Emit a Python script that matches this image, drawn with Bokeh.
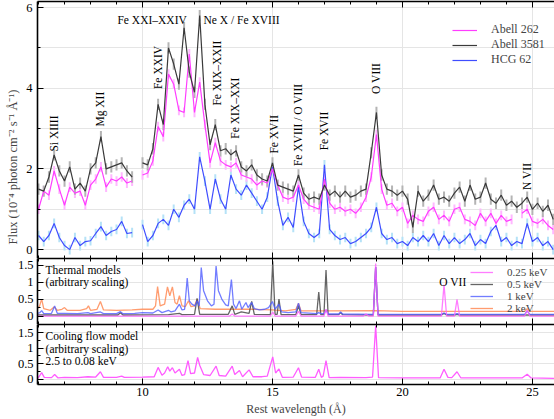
from math import pi
from bokeh.plotting import figure
from bokeh.models import (Range1d, LinearAxis, SingleIntervalTicker, FixedTicker, Legend,
                          LegendItem, Label, Title, ColumnDataSource, NumeralTickFormatter)
from bokeh.layouts import column
from bokeh.embed import file_html
from bokeh.resources import INLINE

nan = float("nan")

# ---------------- data: observed spectra (flux, 1e-4 photon cm-2 s-1 A-1) ----------------
wavelength = [6.0, 6.2, 6.4, 6.6, 6.8, 7.0, 7.2, 7.4, 7.6, 7.8,
              8.0, 8.2, 8.4, 8.6, 8.8, 9.0, 9.2, 9.4, 9.6, 9.8,
              10.0, 10.2, 10.4, 10.6, 10.8, 11.0, 11.2, 11.4, 11.6, 11.8,
              12.0, 12.2, 12.4, 12.6, 12.8, 13.0, 13.2, 13.4, 13.6, 13.8,
              14.0, 14.2, 14.4, 14.6, 14.8, 15.0, 15.2, 15.4, 15.6, 15.8,
              16.0, 16.2, 16.4, 16.6, 16.8, 17.0, 17.2, 17.4, 17.6, 17.8,
              18.0, 18.2, 18.4, 18.6, 18.8, 19.0, 19.2, 19.4, 19.6, 19.8,
              20.0, 20.2, 20.4, 20.6, 20.8, 21.0, 21.2, 21.4, 21.6, 21.8,
              22.0, 22.2, 22.4, 22.6, 22.8, 23.0, 23.2, 23.4, 23.6, 23.8,
              24.0, 24.2, 24.4, 24.6, 24.8, 25.0, 25.2, 25.4, 25.6, 25.8]

abell262 = [1.0, 1.45, 1.35, 1.95, 1.5, 1.1, 1.55, 1.4, 1.45, 1.1,
            1.6, 1.75, 2.05, 1.55, 1.75, 1.7, 1.8, 1.65, 1.7, nan,
            1.85, 1.9, 2.2, 3.05, 2.8, 4.35, 4.1, 3.45, 3.4, 4.85,
            3.4, 4.15, 3.1, 2.15, 2.65, 2.2, 2.1, 2.05, 2.15, 1.85,
            1.8, 1.75, 1.6, 1.7, 1.65, 2.0, 1.6, 1.3, 1.25, 1.3,
            1.6, 1.25, 1.1, 1.05, 1.0, 1.75, 1.15, 1.0, 1.05, 0.95,
            1.0, 0.9, 1.05, 1.3, 1.8, 2.85, 1.5, 1.1, 1.15, 0.95,
            1.05, 0.65, 0.85, 0.75, 0.7, 0.95, 1.05, 0.75, 0.85, 0.7,
            1.0, 1.05, 0.75, 0.7, 0.6, 0.9, 0.7, 0.9, 0.65, 0.85,
            0.7, 0.75, nan, 0.9, 1.0, 0.7, 0.65, 0.75, 0.6, 0.5]

abell3581 = [1.5, 1.45, 1.8, 2.35, 1.95, 1.7, 2.05, 1.5, 1.65, 1.45,
             2.0, 2.15, 2.8, 2.0, 2.05, 2.1, 2.15, 1.95, 1.8, nan,
             2.15, 2.1, 2.5, 3.6, 3.1, 5.0, 4.6, 4.1, 5.5, 4.4,
             3.9, 5.8, 3.6, 2.6, 3.1, 2.45, 2.5, 2.35, 2.45, 2.05,
             1.95, 2.1, 1.85, 1.75, 1.7, 2.15, 1.6, 1.55, 1.5, 1.45,
             1.85, 1.4, 1.25, 1.3, 1.25, 1.6, 1.35, 1.45, 1.3, 1.45,
             1.3, 1.35, 1.45, 1.5, 2.4, 3.4, 1.85, 1.5, 1.45, 1.35,
             1.45, 1.25, 0.55, 1.45, 1.2, 1.35, 1.6, 1.25, 1.3, 1.2,
             1.4, 1.55, 1.2, 1.6, 1.25, 1.3, 1.65, 1.25, 1.15, 1.35,
             1.1, 1.2, 1.05, 1.15, 1.3, 1.0, 1.15, 0.95, 1.1, 0.75]

hcg62 = [0.35, 0.2, 0.35, 0.65, 0.3, 0.1, 0.0, 0.3, 0.1, 0.2,
         0.22, 0.4, 0.57, 0.35, 0.45, 0.5, 0.7, 0.4, 0.42, nan,
         0.62, 0.2, 0.35, 0.65, 0.75, 0.6, 1.0, 0.8, 1.1, 1.25,
         1.0, 2.3, 1.7, 1.0, 1.75, 1.25, 1.0, 1.85, 1.5, 1.35,
         1.6, 1.4, 1.2, 1.0, 1.3, 2.05, 1.2, 0.6, 0.8, 0.55,
         1.55, 0.7, 0.4, 0.3, 0.4, 2.1, 0.5, 0.35, 0.25, 0.3,
         0.15, 0.2, 0.3, 0.4, 0.55, 1.05, 0.4, 0.25, 0.3, 0.15,
         0.2, 0.1, 0.3, 0.2, 0.35, 0.2, 0.4, 0.1, 0.35, 0.15,
         0.3, 0.15, 0.25, 0.4, 0.1, 0.25, 0.15, 0.45, 0.6, 0.2,
         0.3, 0.1, 0.2, 0.15, 0.65, 0.2, 0.3, 0.1, 0.2, 0.0]

err_abell262 = 0.12
err_abell3581 = 0.14
err_hcg62 = 0.12

# ---------------- data: thermal models (arbitrary scaling) ----------------
model_2kev_wl = [5.96, 6.04, 6.12, 6.2, 6.45, 6.6, 6.72, 6.9, 7.0, 7.1, 7.6, 7.85, 7.92, 8.0, 8.25,
                 8.38, 8.5, 9.0, 9.6, 10.0, 10.4, 10.5, 10.58, 10.68, 10.85, 10.96, 11.05, 11.15, 11.25,
                 11.33, 11.42, 11.52, 11.65, 11.77, 11.86, 12.0, 12.1, 12.22, 12.8, 13.45, 14.2, 15.0,
                 15.5, 15.9, 16.0, 16.1, 17.05, 18.97, 20.0, 21.6, 24.7, 24.8, 24.9, 25.85]
model_2kev = [0.22, 0.3, 0.5, 0.22, 0.17, 0.27, 0.17, 0.2, 0.25, 0.17, 0.17, 0.22, 0.3, 0.17, 0.2,
              0.43, 0.18, 0.17, 0.18, 0.2, 0.2, 0.3, 0.87, 0.3, 0.35, 0.86, 0.6, 0.86, 0.4,
              0.35, 0.6, 0.3, 0.28, 0.45, 0.28, 0.3, 0.5, 0.22, 0.2, 0.2, 0.2, 0.18,
              0.15, 0.2, 0.37, 0.15, 0.15, 0.16, 0.14, 0.14, 0.14, 0.22, 0.14, 0.14]

model_1kev_wl = [5.96, 6.05, 6.12, 6.2, 6.5, 6.62, 6.72, 7.0, 7.5, 7.9, 8.0, 8.38, 8.5, 9.0, 9.15,
                 9.25, 9.7, 10.0, 10.4, 10.6, 10.75, 11.0, 11.1, 11.25, 11.42, 11.52, 11.62, 11.72,
                 11.8, 11.9, 12.02, 12.1, 12.18, 12.26, 12.35, 12.5, 12.65, 12.75, 12.83, 12.92,
                 13.05, 13.2, 13.3, 13.42, 13.5, 13.6, 13.73, 13.82, 13.98, 14.06, 14.2, 14.3,
                 14.5, 14.7, 14.85, 15.0, 15.1, 15.25, 15.35, 15.6, 15.9, 16.0, 16.1, 16.7, 16.78,
                 16.86, 17.0, 17.06, 17.15, 17.55, 17.62, 17.7, 18.88, 18.97, 19.06, 21.5, 21.6,
                 21.7, 22.0, 22.1, 22.2, 24.7, 24.8, 24.9, 25.85]
model_1kev = [0.08, 0.1, 0.16, 0.07, 0.08, 0.3, 0.08, 0.08, 0.07, 0.1, 0.07, 0.12, 0.07, 0.07, 0.13,
              0.07, 0.08, 0.1, 0.09, 0.18, 0.1, 0.17, 0.12, 0.15, 0.35, 0.18, 0.2, 1.12,
              0.45, 0.35, 0.3, 0.45, 0.3, 1.43, 0.75, 0.45, 0.3, 0.35, 1.48, 0.75,
              0.5, 0.33, 0.3, 1.08, 0.35, 0.22, 0.45, 0.2, 0.4, 0.25, 0.4, 0.22,
              0.18, 0.2, 0.25, 0.43, 0.2, 0.35, 0.12, 0.1, 0.12, 0.38, 0.1, 0.07, 0.1,
              0.07, 0.08, 0.18, 0.06, 0.06, 0.12, 0.06, 0.05, 1.45, 0.05, 0.05, 0.09,
              0.05, 0.05, 0.07, 0.05, 0.05, 0.15, 0.05, 0.05]

model_05kev_wl = [5.96, 9.05, 9.15, 9.25, 11.0, 11.42, 11.52, 12.0, 12.1, 12.2, 13.3, 13.45, 13.55,
                  13.8, 14.1, 14.2, 14.3, 14.92, 15.01, 15.1, 15.18, 15.25, 15.33, 15.9, 16.0, 16.1,
                  16.7, 16.78, 16.86, 16.98, 17.06, 17.14, 17.55, 17.62, 17.7, 18.88, 18.97, 19.06,
                  21.5, 21.6, 21.7, 22.0, 22.1, 22.2, 25.85]
model_05kev = [0.03, 0.03, 0.1, 0.03, 0.04, 0.08, 0.04, 0.05, 0.52, 0.05, 0.05, 0.3, 0.05,
               0.12, 0.08, 0.43, 0.05, 0.04, 1.62, 0.05, 0.05, 0.5, 0.04, 0.04, 0.3, 0.04,
               0.04, 0.71, 0.04, 0.04, 1.36, 0.04, 0.04, 0.1, 0.04, 0.03, 1.45, 0.03,
               0.03, 0.08, 0.03, 0.03, 0.05, 0.03, 0.03]

model_025kev_wl = [5.96, 13.35, 13.45, 13.55, 14.92, 15.01, 15.1, 15.9, 16.0, 16.1, 16.98, 17.06,
                   17.14, 18.5, 18.6, 18.7, 18.88, 18.97, 19.06, 21.5, 21.6, 21.7, 22.0, 22.1,
                   22.2, 24.7, 24.8, 24.9, 25.85]
model_025kev = [0.0, 0.0, 0.06, 0.0, 0.0, 0.12, 0.0, 0.0, 0.14, 0.0, 0.0, 0.2,
                0.0, 0.0, 0.06, 0.0, 0.0, 1.55, 0.0, 0.0, 0.92, 0.0, 0.0, 0.49,
                0.0, 0.0, 0.17, 0.0, 0.0]

# ---------------- data: cooling flow model (2.5 to 0.08 keV) ----------------
cooling_wl = [5.96, 6.05, 6.12, 6.22, 6.5, 6.62, 6.75, 7.0, 7.5, 7.9, 8.2, 8.38, 8.5, 9.0, 9.2,
              9.3, 10.0, 10.45, 10.6, 10.75, 10.85, 10.97, 11.05, 11.15, 11.25, 11.42, 11.52, 11.62,
              11.75, 11.85, 12.0, 12.12, 12.2, 12.35, 12.6, 12.83, 12.95, 13.2, 13.45, 13.55, 13.73,
              13.85, 14.1, 14.25, 14.6, 14.8, 15.01, 15.12, 15.25, 15.38, 15.8, 16.0, 16.12, 16.65,
              16.78, 16.88, 16.95, 17.06, 17.18, 17.6, 18.6, 18.85, 18.97, 19.08, 20.0, 21.45, 21.6,
              21.75, 21.9, 22.1, 22.25, 24.6, 24.8, 24.95, 25.85]
cooling_flow = [0.02, 0.12, 0.21, 0.06, 0.05, 0.15, 0.04, 0.06, 0.05, 0.08, 0.07, 0.24, 0.06, 0.06, 0.1,
                0.06, 0.07, 0.08, 0.38, 0.13, 0.2, 0.4, 0.26, 0.37, 0.2, 0.32, 0.12, 0.15,
                0.6, 0.18, 0.2, 0.7, 0.45, 0.15, 0.12, 0.42, 0.12, 0.1, 0.42, 0.15, 0.28,
                0.08, 0.3, 0.08, 0.08, 0.1, 0.72, 0.2, 0.33, 0.06, 0.07, 0.37, 0.07, 0.06,
                0.32, 0.06, 0.1, 0.6, 0.05, 0.06, 0.05, 0.07, 1.72, 0.05, 0.04, 0.04, 0.32,
                0.06, 0.05, 0.24, 0.04, 0.04, 0.16, 0.04, 0.03]

# ---------------- tick positions (Angstrom) ----------------
major_wl_ticks = [10, 15, 20, 25]
minor_wl_ticks = [6, 7, 8, 9, 11, 12, 13, 14, 16, 17, 18, 19, 21, 22, 23, 24]

# ---------------- annotations ----------------
line_ids = ["Si XIIII", "Mg XII", "Fe XXIV", "Fe XIX\u2013XXII", "Fe XIX\u2013XXI", "Fe XVII",
            "Fe XVIII / O VIII", "Fe XVII", "O VIII", "N VII"]
line_id_x = [6.58, 8.38, 10.58, 12.88, 13.54, 15.04, 16.0, 17.0, 19.0, 24.8]
line_id_y = [2.43, 3.05, 3.98, 3.57, 2.75, 2.38, 2.07, 2.46, 3.86, 1.48]
top_ids = ["Fe XXI\u2013XXIV", "Ne X / Fe XVIII"]
top_id_x = [10.37, 13.81]
top_id_y = [5.70, 5.70]

SERIF = "Liberation Serif"
C_A262, C_A262_E = "#ff3dff", "#ffb8ff"
C_A3581, C_A3581_E = "#3a3a3a", "#b4b4b4"
C_HCG, C_HCG_E = "#3f4dff", "#b5e2f7"
C_025, C_05, C_1, C_2 = "#ff5cff", "#4a4a4a", "#4f5dff", "#ff915f"

x_range = Range1d(5.96, 25.85)


def make_fig(height, y0, y1, top_border, bottom_border):
    p = figure(width=554, height=height, x_range=x_range, y_range=Range1d(y0, y1),
               output_backend="svg", toolbar_location=None,
               x_axis_location=None, y_axis_location=None,
               min_border_left=37, min_border_right=0,
               min_border_top=top_border, min_border_bottom=bottom_border)
    p.outline_line_color = None
    p.background_fill_color = "white"
    p.border_fill_color = "white"
    return p


def style_axis(ax):
    ax.axis_line_width = 1.6
    ax.axis_line_color = "black"
    ax.major_tick_in = 6
    ax.major_tick_out = 0
    ax.minor_tick_in = 3
    ax.minor_tick_out = 0
    ax.major_tick_line_color = "black"
    ax.minor_tick_line_color = "black"
    ax.major_label_text_font = SERIF
    ax.major_label_text_font_size = "12.5px"
    ax.major_label_text_color = "black"
    ax.major_label_standoff = 3
    return ax


def add_plain_x_ticks(p, side):
    # unlabeled boundary: line + short ticks every 1 A, then longer ticks every 5 A (overlay)
    a = LinearAxis(ticker=FixedTicker(ticks=[], minor_ticks=minor_wl_ticks))
    a.axis_line_width = 1.6
    a.minor_tick_in = 3
    a.minor_tick_out = 0
    a.major_tick_in = 0
    a.major_tick_out = 0
    a.major_label_standoff = 0
    p.add_layout(a, side)
    b = LinearAxis(ticker=FixedTicker(ticks=[], minor_ticks=major_wl_ticks))
    b.axis_line_color = None
    b.minor_tick_in = 6
    b.minor_tick_out = 0
    b.major_tick_in = 0
    b.major_tick_out = 0
    b.major_label_standoff = 0
    p.add_layout(b, side)


def model_y_axis():
    ax = LinearAxis(ticker=FixedTicker(ticks=[0, 0.5, 1, 1.5], minor_ticks=[0.25, 0.75, 1.25]),
                    formatter=NumeralTickFormatter(format="0.[0]"))
    style_axis(ax)
    ax.major_label_standoff = 4
    return ax


# ---------------- top panel: spectra ----------------
p1 = make_fig(258, -0.22, 6.15, 1, 0)
add_plain_x_ticks(p1, "above")
add_plain_x_ticks(p1, "below")
ly = style_axis(LinearAxis(ticker=SingleIntervalTicker(interval=2, num_minor_ticks=2)))
ly.major_label_standoff = 5
p1.add_layout(ly, "left")
p1.add_layout(Title(text="Flux (10\u207b\u2074 photon cm\u207b\u00b2 s\u207b\u00b9 \u00c5\u207b\u00b9)",
                    align="left", offset=14, text_font=SERIF, text_font_size="12.5px",
                    text_font_style="normal", standoff=7), "left")

series = [("Abell 262", abell262, err_abell262, C_A262, C_A262_E),
          ("Abell 3581", abell3581, err_abell3581, C_A3581, C_A3581_E),
          ("HCG 62", hcg62, err_hcg62, C_HCG, C_HCG_E)]
by_name = {s[0]: s for s in series}
sources = {}
for name, flux, err, col, ecol in series:
    lo = [f - err for f in flux]
    hi = [f + err for f in flux]
    sources[name] = ColumnDataSource(dict(x=wavelength, y=flux, lo=lo, hi=hi))

draw_order = ["HCG 62", "Abell 262", "Abell 3581"]
for name in draw_order:
    p1.segment(x0="x", y0="lo", x1="x", y1="hi", source=sources[name],
               line_color=by_name[name][4], line_width=2)

line_renderers = {}
for name in draw_order:
    line_renderers[name] = p1.line("x", "y", source=sources[name],
                                   line_color=by_name[name][3], line_width=1.2)

items = []
for name, flux, err, col, ecol in series:
    mark = p1.scatter(x=[], y=[], marker="cross", size=8, line_color=col, line_width=1)
    items.append(LegendItem(label=name, renderers=[line_renderers[name], mark]))
leg1 = Legend(items=items, location=(415, 191), padding=0, margin=0, spacing=-2,
              glyph_width=25, glyph_height=14, label_height=14, label_standoff=14,
              label_text_font=SERIF, label_text_font_size="12px",
              background_fill_alpha=0, border_line_color=None)
p1.add_layout(leg1)

for t, x, y in zip(line_ids, line_id_x, line_id_y):
    p1.add_layout(Label(x=x, y=y, text=t, angle=pi / 2, text_align="left", text_baseline="middle",
                        text_font=SERIF, text_font_size="11.5px", text_color="black"))
for t, x, y in zip(top_ids, top_id_x, top_id_y):
    p1.add_layout(Label(x=x, y=y, text=t, text_align="center", text_baseline="middle",
                        text_font=SERIF, text_font_size="11.5px", text_color="black"))

# ---------------- middle panel: thermal models ----------------
p2 = make_fig(66, -0.25, 1.7, 0, 0)
add_plain_x_ticks(p2, "above")
add_plain_x_ticks(p2, "below")
p2.add_layout(model_y_axis(), "left")

r2 = p2.line(model_2kev_wl, model_2kev, line_color=C_2, line_width=1.3, line_alpha=0.9)
r05 = p2.line(model_05kev_wl, model_05kev, line_color=C_05, line_width=1.3, line_alpha=0.85)
r1 = p2.line(model_1kev_wl, model_1kev, line_color=C_1, line_width=1.3, line_alpha=0.8)
r025 = p2.line(model_025kev_wl, model_025kev, line_color=C_025, line_width=1.3, line_alpha=0.8)

leg2 = Legend(items=[LegendItem(label="0.25 keV", renderers=[r025]),
                     LegendItem(label="0.5 keV", renderers=[r05]),
                     LegendItem(label="1 keV", renderers=[r1]),
                     LegendItem(label="2 keV", renderers=[r2])],
              location=(433, 10), padding=0, margin=0, spacing=0,
              glyph_width=23, glyph_height=12, label_height=12, label_standoff=14,
              label_text_font=SERIF, label_text_font_size="11px",
              background_fill_alpha=0, border_line_color=None)
p2.add_layout(leg2)

for t, y in zip(["Thermal models", "(arbitrary scaling)"], [1.36, 1.0]):
    p2.add_layout(Label(x=6.27, y=y, text=t, text_align="left", text_baseline="middle",
                        text_font=SERIF, text_font_size="11.5px", text_color="black"))
p2.add_layout(Label(x=21.94, y=1.0, text="O VII", text_align="center", text_baseline="middle",
                    text_font=SERIF, text_font_size="11.5px", text_color="black"))

# ---------------- bottom panel: cooling flow ----------------
p3 = make_fig(94, -0.17, 1.76, 0, 32)
add_plain_x_ticks(p3, "above")
bx = style_axis(LinearAxis(ticker=SingleIntervalTicker(interval=5, num_minor_ticks=5)))
bx.axis_label = "Rest wavelength (\u00c5)"
bx.axis_label_text_font = SERIF
bx.axis_label_text_font_size = "12px"
bx.axis_label_text_font_style = "normal"
bx.axis_label_standoff = 3
p3.add_layout(bx, "below")
p3.add_layout(model_y_axis(), "left")
p3.line(cooling_wl, cooling_flow, line_color=C_025, line_width=1.3)

for t, y in zip(["Cooling flow model", "(arbitrary scaling)", "2.5 to 0.08 keV"], [1.38, 0.97, 0.57]):
    p3.add_layout(Label(x=6.27, y=y, text=t, text_align="left", text_baseline="middle",
                        text_font=SERIF, text_font_size="11.5px", text_color="black"))

layout = column(p1, p2, p3, spacing=0)
open("out.html", "w").write(file_html(layout, INLINE))
